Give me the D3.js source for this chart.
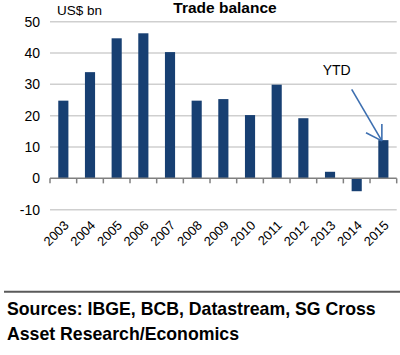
<!DOCTYPE html>
<html>
<head>
<meta charset="utf-8">
<script src="https://cdn.jsdelivr.net/npm/d3@7"></script>
<style>
html,body{margin:0;padding:0;background:#fff;}
svg{display:block;font-family:"Liberation Sans",Arial,sans-serif;}
</style>
</head>
<body>
<svg id="chart" width="400" height="355"></svg>
<script>
const years = ["2003","2004","2005","2006","2007","2008","2009","2010","2011","2012","2013","2014","2015"];
const balance = [24.8, 33.9, 44.7, 46.3, 40.3, 24.8, 25.3, 20.2, 29.9, 19.2, 2.1, -4.1, 12.2];
const yTicks = [-10, 0, 10, 20, 30, 40, 50];
const titleText = "Trade balance";
const unitText = "US$ bn";
const noteText = "YTD";
const sourceLines = ["Sources: IBGE, BCB, Datastream, SG Cross", "Asset Research/Economics"];

const svg = d3.select("#chart");
const x = d3.scaleBand().domain(years).range([50, 396.7]).paddingInner(0.62).paddingOuter(0.31);
const y = d3.scaleLinear().domain([-10, 50]).range([209.7, 21.7]);

// gridlines
svg.append("g").selectAll("line").data(yTicks.filter(d => d !== 0)).join("line")
  .attr("x1", 50).attr("x2", 396.7)
  .attr("y1", d => y(d)).attr("y2", d => y(d))
  .attr("stroke", "#cfcfcf").attr("stroke-width", 1.5);

// y tick labels
svg.append("g").selectAll("text").data(yTicks).join("text")
  .attr("x", 40).attr("y", d => y(d)).attr("dy", "0.36em")
  .attr("text-anchor", "end").attr("font-size", 14).attr("fill", "#000")
  .text(d => d);

// bars
svg.append("g").selectAll("rect").data(balance).join("rect")
  .attr("x", (d, i) => x(years[i]))
  .attr("width", x.bandwidth())
  .attr("y", d => y(Math.max(0, d)))
  .attr("height", d => Math.abs(y(d) - y(0)))
  .attr("fill", "#173f72");

// zero axis with ticks
const axis = svg.append("g").attr("transform", `translate(0,${y(0)})`);
axis.append("line").attr("x1", 50).attr("x2", 396.7).attr("stroke", "#808080").attr("stroke-width", 1.5);
const tickXs = years.map(yr => x(yr) - x.step() * x.paddingInner() / 2);
tickXs.push(396.7);
axis.selectAll("line.t").data(tickXs).join("line").attr("class", "t")
  .attr("x1", d => d).attr("x2", d => d).attr("y1", 0).attr("y2", 5)
  .attr("stroke", "#808080").attr("stroke-width", 1.5);

// x labels
svg.append("g").selectAll("text").data(years).join("text")
  .attr("transform", d => `translate(${x(d) + x.bandwidth() / 2 + 3},${223}) rotate(-45)`)
  .attr("text-anchor", "end").attr("font-size", 13).attr("dy", "0.35em")
  .text(d => d);

// title and unit
svg.append("text").attr("x", 225).attr("y", 13).attr("text-anchor", "middle")
  .attr("font-size", 15.5).attr("font-weight", "bold").text(titleText);
svg.append("text").attr("x", 57).attr("y", 15).attr("font-size", 13.5).text(unitText);

// YTD annotation
svg.append("text").attr("x", 322.7).attr("y", 75).attr("font-size", 14).text(noteText);
const lastX = x(years[12]) + x.bandwidth() / 2;
const tipY = y(balance[12]);
const arrow = svg.append("g").attr("stroke", "#3d6fb0").attr("stroke-width", 1.6).attr("fill", "none");
arrow.append("line").attr("x1", 351.7).attr("y1", 89.3).attr("x2", lastX - 1.5).attr("y2", tipY + 0.7);
arrow.append("line").attr("x1", 366).attr("y1", 132.7).attr("x2", lastX - 1.5).attr("y2", tipY + 0.7);
arrow.append("line").attr("x1", lastX - 1.5).attr("y1", 124).attr("x2", lastX - 1.5).attr("y2", tipY + 0.7);

// separator and source
svg.append("line").attr("x1", 4).attr("x2", 400).attr("y1", 291.7).attr("y2", 291.7)
  .attr("stroke", "#5a5a5a").attr("stroke-width", 2);
svg.append("g").selectAll("text").data(sourceLines).join("text")
  .attr("x", 7).attr("y", (d, i) => 315 + i * 25)
  .attr("font-size", 17.7).attr("font-weight", "bold").text(d => d);
</script>
</body>
</html>
